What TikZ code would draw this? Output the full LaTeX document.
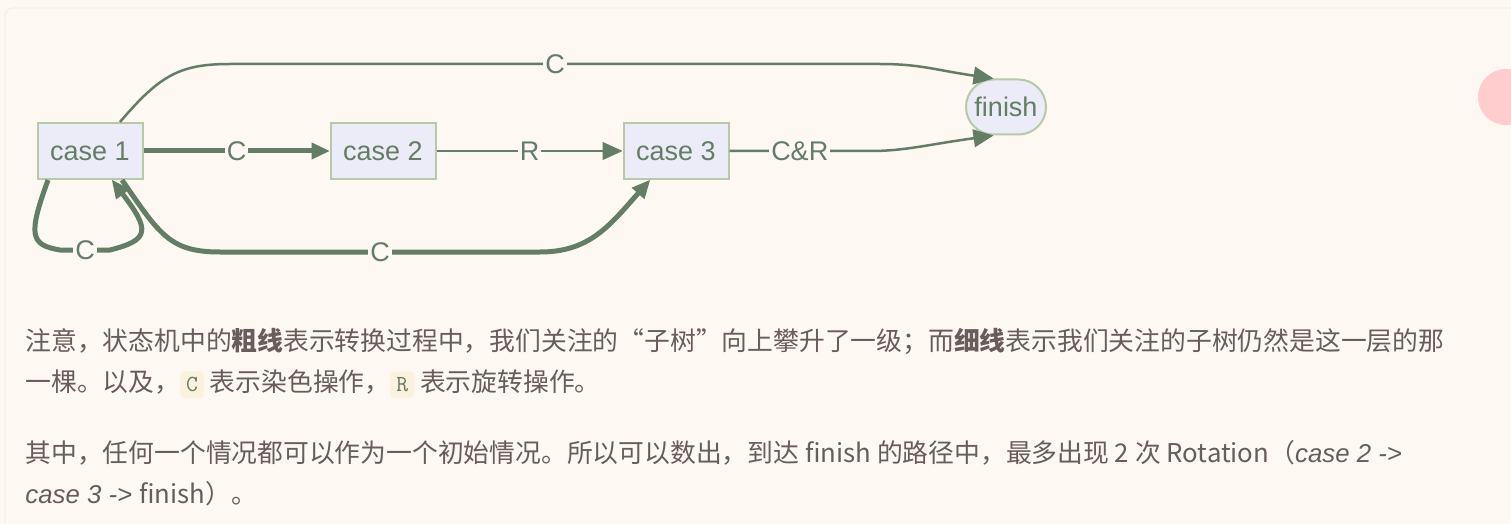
\documentclass[tikz,border=0pt]{standalone}
\usepackage{fontspec}
\setmainfont{Liberation Sans}
\newfontfamily\cjk{Noto Sans CJK SC}
\usetikzlibrary{arrows.meta, positioning, shapes}

\definecolor{edgegreen}{HTML}{647D65}
\definecolor{boxfill}{HTML}{ECECF8}
\definecolor{boxline}{HTML}{B7C9A9}
\definecolor{pagebg}{HTML}{FDF8F2}
\definecolor{prose}{HTML}{6A5C5C}
\definecolor{codebg}{HTML}{FCF1DE}

\tikzset{
    state/.style={draw=boxline, fill=boxfill, line width=1pt, minimum width=52.5pt,
        minimum height=28pt, font=\fontsize{13.5}{15}\selectfont, text=edgegreen},
    final/.style={state, rounded rectangle, minimum width=52pt, inner xsep=6pt, minimum height=27.5pt},
    thin/.style={draw=edgegreen, line width=1.25pt, -{Triangle[length=10pt,width=9pt,fill=edgegreen,line width=0.5pt]}},
    thick/.style={thin, line width=2.5pt, -{Triangle[length=9pt,width=8.5pt,fill=edgegreen,line width=0.5pt]}},
    lbl/.style={fill=pagebg, inner sep=1pt, font=\fontsize{13.5}{15}\selectfont, text=edgegreen},
    prosetext/.style={anchor=west, inner sep=0pt, text=prose, font=\cjk\fontsize{12.9}{16}\selectfont},
    code/.style={fill=codebg, rounded corners=2pt, inner sep=3pt, text=edgegreen,
        font=\ttfamily\fontsize{11.5}{13}\selectfont}
}

\begin{document}
\begin{tikzpicture}[x=0.5pt, y=-0.5pt]
    \useasboundingbox (0,0) rectangle (1511,524);
    \clip (0,0) rectangle (1511,524);
    \fill[pagebg] (0,0) rectangle (1511,524);
    \draw[black!8, rounded corners=4pt] (5,560) -- (5,8) -- (1530,8);

    % pink button at the right border
    \fill[pink!90!red!60] (1506,97) circle (28);

    % states
    \node[state] (c1) at (90,151) {case 1};
    \node[state] (c2) at (383,151) {case 2};
    \node[state] (c3) at (676,151) {case 3};
    \node[final] (fin) at (1006,107) {finish};

    % thick edges
    \draw[thick] (c1) -- node[lbl] {C} (c2);
    \draw[thick] ([xshift=-21pt]c1.south) .. controls (28,235) and (30,245) .. (60,250)
        -- node[lbl, pos=0.5] {C} (110,250) .. controls (150,240) and (150,230) .. ([xshift=11pt]c1.south);
    \draw[thick] ([xshift=16pt]c1.south) .. controls (160,235) and (170,252) .. (220,252)
        -- node[lbl] {C} (540,252) .. controls (590,252) and (610,225) .. ([xshift=-13pt]c3.south);

    % thin edges
    \draw[thin] (c2) -- node[lbl] {R} (c3);
    \draw[thin] ([xshift=15pt]c1.north) .. controls (160,75) and (180,64) .. (230,64)
        -- node[lbl] {C} (880,64) .. controls (920,64) and (935,70) .. (fin.north west);
    \draw[thin] (c3) -- node[lbl] {C\&R} (870,151) .. controls (905,151) and (925,145) .. (fin.south west);

    % prose below the chart
    \node[prosetext] (p1) at (25,341) {注意，状态机中的\textbf{粗线}表示转换过程中，我们关注的“子树”向上攀升了一级；而\textbf{细线}表示我们关注的子树仍然是这一层的那};
    \node[prosetext] (p2) at (25,384) {一棵。以及，\tikz[baseline=(x.base)]\node[code](x){C}; 表示染色操作，\tikz[baseline=(y.base)]\node[code](y){R}; 表示旋转操作。};
    \node[prosetext] (p3) at (25,453) {其中，任何一个情况都可以作为一个初始情况。所以可以数出，到达 finish 的路径中，最多出现 2 次 Rotation（{\fontspec{Liberation Sans}\itshape case 2 -\textgreater}};
    \node[prosetext] (p4) at (25,494) {{\fontspec{Liberation Sans}\itshape case 3 -\textgreater{} }finish）。};
\end{tikzpicture}
\end{document}
